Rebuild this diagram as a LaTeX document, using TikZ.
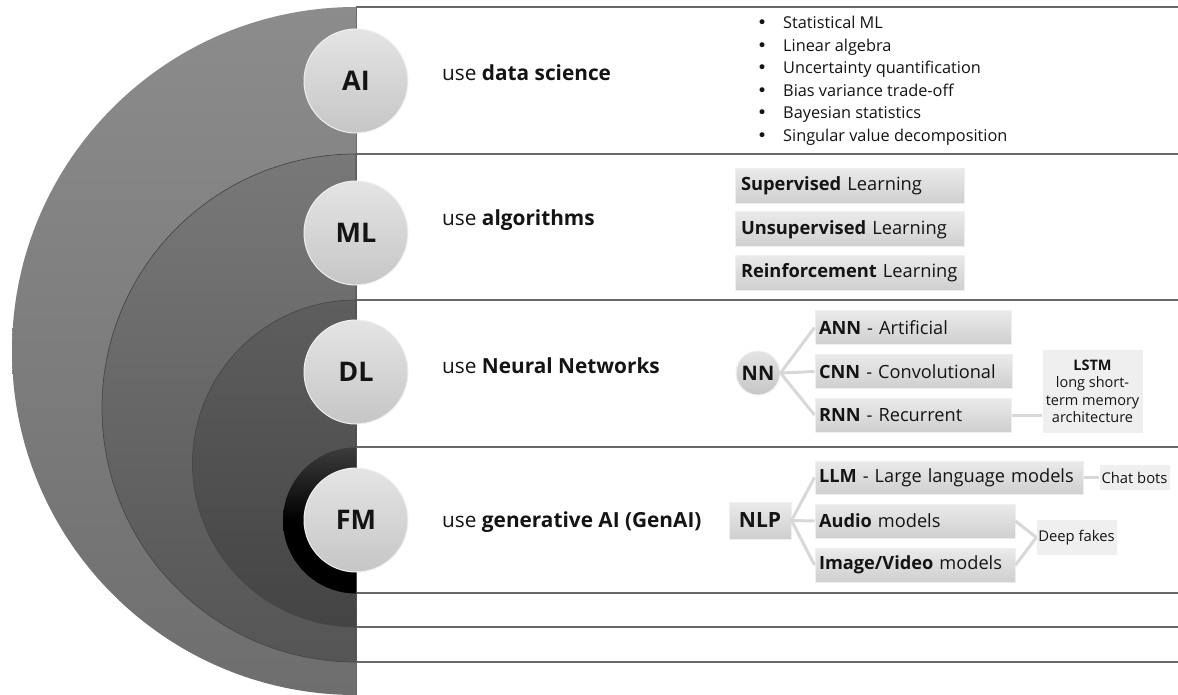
\documentclass[tikz,border=0pt]{standalone}
\usepackage{fontspec}
\setmainfont{Open Sans}
\newfontfamily\bulletfont{DejaVu Sans}
\definecolor{rulec}{HTML}{686868}
\definecolor{txt}{HTML}{141414}
\definecolor{aiT}{HTML}{8C8C8C}\definecolor{aiB}{HTML}{6E6E6E}
\definecolor{mlT}{HTML}{787878}\definecolor{mlB}{HTML}{555555}
\definecolor{dlT}{HTML}{5E5E5E}\definecolor{dlB}{HTML}{444444}
\definecolor{fmT}{HTML}{3C3C3C}
\definecolor{arcline}{HTML}{474747}
\definecolor{cTop}{HTML}{E4E4E4}\definecolor{cBot}{HTML}{C6C6C6}\definecolor{cEdge}{HTML}{F0F0F0}
\definecolor{bxT}{HTML}{EAEAEA}\definecolor{bxB}{HTML}{CFCFCF}\definecolor{bxE}{HTML}{EFEFEF}
\definecolor{flat}{HTML}{EFEFEF}
\definecolor{linkc}{HTML}{D8D8D8}
\begin{document}
\begin{tikzpicture}[x=1pt,y=-1pt,
  bigcirc/.style={circle, minimum size=104pt, inner sep=0pt, top color=cTop, bottom color=cBot, draw=cEdge, line width=1pt, text=txt, font=\fontsize{27}{30}\selectfont\bfseries},
  smallcirc/.style={circle, minimum size=44pt, inner sep=0pt, top color=cTop, bottom color=cBot, draw=cEdge, line width=1pt, text=txt, font=\fontsize{20}{24}\selectfont\bfseries},
  usetext/.style={anchor=base west, inner sep=0pt, text=txt, font=\fontsize{20.8}{24}\selectfont},
  bullet/.style={anchor=base west, inner sep=0pt, text=txt, font=\fontsize{16.3}{19}\selectfont},
  gbox/.style={rectangle, top color=bxT, bottom color=bxB, draw=bxE, line width=1pt, text=txt, align=left, inner ysep=0pt},
  mlbox/.style={gbox, minimum width=229pt, minimum height=35pt, text width=217pt, inner xsep=6pt, font=\fontsize{18.3}{21}\selectfont},
  nnbox/.style={gbox, minimum height=34pt, inner xsep=4pt, font=\fontsize{18.2}{21}\selectfont},
  flatbox/.style={rectangle, fill=flat, text=txt, align=center, inner sep=0pt, font=\fontsize{14.8}{17.5}\selectfont},
  link/.style={draw=linkc, line width=3pt},
  rowline/.style={draw=rulec, line width=1.6pt},
  arcedge/.style={draw=arcline, line width=0.7pt}
]
\useasboundingbox (0,0) rectangle (1178,695);
\fill[white] (0,0) rectangle (1178,695);
% panel lines
\foreach \yy in {7,154,300,447,593,627,662} \draw[rowline] (356,\yy) -- (1178,\yy);
\draw[rowline] (356,7) -- (356,695);
% nested half discs
\shade[top color=aiT, bottom color=aiB] (356,7) arc[start angle=90, end angle=270, radius=344pt] -- cycle;
\shade[top color=mlT, bottom color=mlB, arcedge] (356,154) arc[start angle=90, end angle=270, radius=254pt] -- cycle;
\shade[top color=dlT, bottom color=dlB, arcedge] (356,300) arc[start angle=90, end angle=270, radius=163.5pt] -- cycle;
\shade[top color=fmT, bottom color=black, middle color=black] (356,447.5) arc[start angle=90, end angle=270, radius=73pt] -- cycle;
% circles
\node[bigcirc] (ai) at (356,81) {AI};
\node[bigcirc] (ml) at (356,233) {ML};
\node[bigcirc] (dl) at (356,372) {DL};
\node[bigcirc] (fm) at (356,520) {FM};
% use texts
\node[usetext] (tai) at (442,81) {use \textbf{data science}};
\node[usetext] (tml) at (442,225.5) {use \textbf{algorithms}};
\node[usetext] (tdl) at (442,373.5) {use \textbf{Neural Networks}};
\node[usetext] (tfm) at (442,527) {use \textbf{generative AI (GenAI)}};
% AI bullets
\foreach \t [count=\i] in {Statistical ML, Linear algebra, Uncertainty quantification, Bias variance trade-off, Bayesian statistics, Singular value decomposition}
  \node[bullet] (b\i) at (757,{29+22.5*(\i-1)}) {\makebox[26pt][l]{\bulletfont\fontsize{17}{19}\selectfont •}\t};
% ML boxes
\node[mlbox] (sup) at (849.5,186) {\textbf{Supervised} Learning};
\node[mlbox] (uns) at (849.5,229.5) {\textbf{Unsupervised} Learning};
\node[mlbox] (rei) at (849.5,272.5) {\textbf{Reinforcement} Learning};
% DL
\node[smallcirc] (nn) at (758,373) {NN};
\node[nnbox, minimum width=196pt, text width=188pt] (ann) at (913,327.5) {\textbf{ANN} - Artificial};
\node[nnbox, minimum width=197pt, text width=189pt] (cnn) at (913.5,371.5) {\textbf{CNN} - Convolutional};
\node[nnbox, minimum width=196pt, text width=188pt] (rnn) at (913,415) {\textbf{RNN} - Recurrent};
\node[flatbox, minimum width=100pt, minimum height=83pt, font=\fontsize{14.5}{17.5}\selectfont] (lstm) at (1092.5,391.5) {\textbf{LSTM}\\long short-\\term memory\\architecture};
\draw[link] (nn.east) -- (ann.west);
\draw[link] (nn.east) -- (cnn.west);
\draw[link] (nn.east) -- (rnn.west);
\draw[link] (rnn.east) -- (rnn.east -| lstm.west);
% FM
\node[gbox, minimum width=62pt, minimum height=37pt, inner xsep=0pt, align=center, font=\fontsize{21}{24}\selectfont\bfseries] (nlp) at (760,520.5) {NLP};
\node[nnbox, minimum width=268pt, text width=260pt, minimum height=33pt] (llm) at (949,477.5) {\textbf{LLM} - Large language models};
\node[nnbox, minimum width=200pt, text width=192pt] (aud) at (915,521) {\textbf{Audio} models};
\node[nnbox, minimum width=200pt, text width=192pt] (img) at (915,565) {\textbf{Image/Video} models};
\node[flatbox, minimum width=70pt, minimum height=25pt] (chat) at (1134.5,477.5) {Chat bots};
\node[flatbox, minimum width=80pt, minimum height=35pt] (fake) at (1076.5,537.5) {Deep fakes};
\draw[link] (nlp.east) -- (llm.west);
\draw[link] (nlp.east) -- (aud.west);
\draw[link] (nlp.east) -- (img.west);
\draw[link] (llm.east) -- (chat.west);
\draw[link] (aud.east) -- (fake.west);
\draw[link] (img.east) -- (fake.west);
\end{tikzpicture}
\end{document}
